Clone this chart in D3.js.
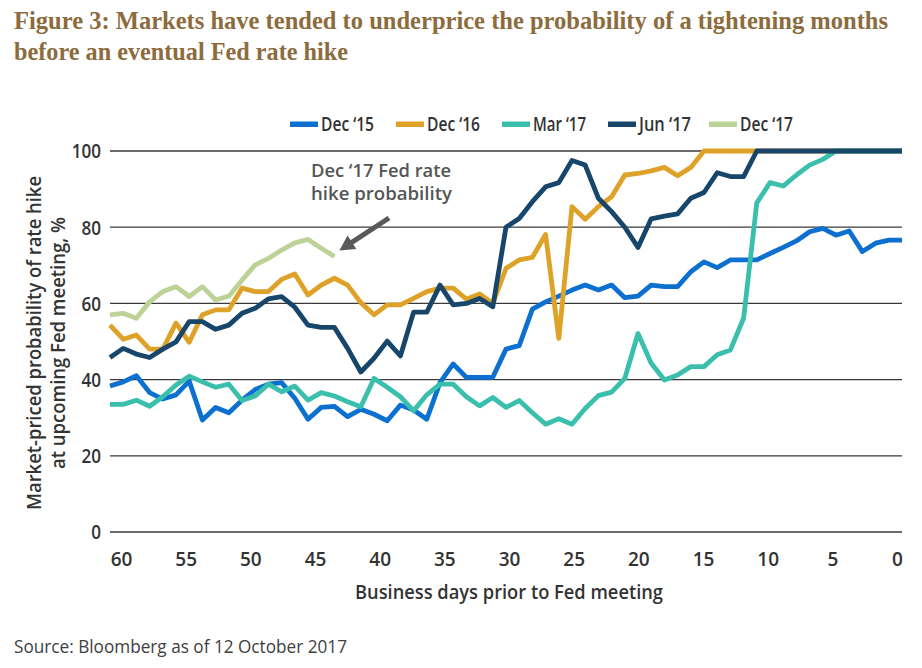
<!DOCTYPE html>
<html>
<head>
<meta charset="utf-8">
<script src="https://cdn.jsdelivr.net/npm/d3@7"></script>
<style>
  html, body { margin: 0; padding: 0; background: #fff; }
  svg { display: block; font-family: "Open Sans", "Noto Sans", sans-serif; }
</style>
</head>
<body>
<svg id="chart" width="922" height="668"></svg>
<script>
// ---- Data ----
const days = [60,59,58,57,56,55,54,53,52,51,50,49,48,47,46,45,44,43,42,41,40,
              39,38,37,36,35,34,33,32,31,30,29,28,27,26,25,24,23,22,21,20,
              19,18,17,16,15,14,13,12,11,10,9,8,7,6,5,4,3,2,1,0];

const dec15 = [38.3,39.4,41,36.6,34.9,36,39.6,29.4,32.7,31.3,34.6,37.4,38.8,39.2,35.1,29.6,32.7,33,30.3,32.2,
               30.9,29.2,33.3,32,29.6,39.2,44.1,40.6,40.6,40.6,48,48.9,58.5,60.4,61.9,63.5,64.8,63.5,64.8,61.5,
               61.9,64.8,64.4,64.4,68.3,70.9,69.4,71.4,71.4,71.4,73.1,74.7,76.4,78.8,79.7,77.9,79,73.6,75.8,76.6,76.6];

const dec16 = [54.3,50.6,51.7,48,48,54.8,49.8,57,58.3,58.3,64,63.1,63.1,66.3,67.7,62.2,64.8,66.6,64.8,60.2,
               57,59.6,59.6,61.3,63.1,64,64,61.1,62.5,60,69.2,71.4,72.1,78.1,50.8,85.4,82.1,85.4,88,93.7,
               94.1,94.8,95.7,93.5,95.7,100,100,100,100,100,100,100,100,100,100,100,100,100,100,100,100];

const mar17 = [33.5,33.5,34.6,33,35.5,38.6,40.9,39.4,38,38.8,34.5,35.7,38.8,36.8,38.3,34.6,36.6,35.7,34.2,32.9,
               40.3,38,35.5,31.8,36,38.8,38.8,35.5,33.1,35.3,32.7,34.5,31.3,28.3,29.7,28.3,32.4,35.8,36.7,40.3,
               52.1,44.3,39.9,41.2,43.4,43.4,46.5,47.8,56.1,86.4,91.7,90.8,93.7,96.3,97.8,100,100,100,100,100,100];

const jun17 = [45.8,48.2,46.7,45.8,48,49.9,55.2,55.2,53.2,54.3,57.4,58.7,61.2,61.8,59,54.3,53.7,53.7,48.2,42,
               45.6,50.1,46.2,57.7,57.7,64.8,59.6,60,61.3,59.1,80,82.3,86.7,90.6,91.7,97.5,96.3,87.6,84.1,80,
               74.7,82.2,82.9,83.5,87.6,89.1,94.3,93.3,93.3,100,100,100,100,100,100,100,100,100,100,100,100];

const dec17 = [57,57.4,56.1,60.4,63.1,64.4,61.8,64.4,60.9,61.9,66.1,70.1,71.8,74,75.9,76.8,74.5,72.3];

const seriesNames = ["Dec \u201815", "Dec \u201816", "Mar \u201817", "Jun \u201817", "Dec \u201817"];
const seriesValues = [dec15, dec16, mar17, jun17, dec17];
const seriesColors = ["#0b70cf", "#dfa228", "#3bbfad", "#17466a", "#bdd296"];

const yTicks = [0, 20, 40, 60, 80, 100];
const xTicks = [60, 55, 50, 45, 40, 35, 30, 25, 20, 15, 10, 5, 0];

const titleLines = ["Figure 3: Markets have tended to underprice the probability of a tightening months",
                    "before an eventual Fed rate hike"];
const yLabelLines = ["Market-priced probability of rate hike", "at upcoming Fed meeting, %"];
const xLabel = "Business days prior to Fed meeting";
const annotationLines = ["Dec \u201817 Fed rate", "hike probability"];
const sourceText = "Source: Bloomberg as of 12 October 2017";

// ---- Chart ----
const svg = d3.select("#chart");
const x = d3.scaleLinear().domain([60, 0]).range([110, 902]);
const xLab = d3.scaleLinear().domain([60, 0]).range([121, 897]);
const y = d3.scaleLinear().domain([0, 100]).range([532, 151]);

// Title
const titleG = svg.append("g");
titleLines.forEach((t, i) => {
  titleG.append("text")
    .attr("x", 14).attr("y", 29 + i * 31)
    .style("font-family", "'Liberation Serif', 'DejaVu Serif', serif")
    .attr("font-weight", "bold").attr("font-size", 25)
    .attr("fill", "#8c6c3d")
    .attr("textLength", i === 0 ? 874 : 334).attr("lengthAdjust", "spacingAndGlyphs")
    .text(t);
});

// Gridlines
svg.append("g").selectAll("line").data(yTicks).join("line")
  .attr("x1", 110).attr("x2", 902)
  .attr("y1", d => y(d)).attr("y2", d => y(d))
  .attr("stroke", "#3a3a3a").attr("stroke-width", 1.3);

// Y axis labels
const yAxis = d3.axisLeft(y).tickValues(yTicks).tickSize(0).tickPadding(0);
const yG = svg.append("g").attr("transform", "translate(101,0)").call(yAxis);
yG.select(".domain").remove();
yG.selectAll("text").style("font-family", "'Open Sans', sans-serif")
  .attr("font-size", 19).attr("font-weight", 600).attr("fill", "#333")
  .attr("dy", "0.36em")
  .attr("transform", "scale(0.9,1)");

// X axis labels
const xAxis = d3.axisBottom(xLab).tickValues(xTicks).tickSize(0).tickPadding(0);
const xG = svg.append("g").attr("transform", "translate(0,566)").call(xAxis);
xG.select(".domain").remove();
xG.selectAll("text").style("font-family", "'Open Sans', sans-serif")
  .attr("font-size", 19).attr("font-weight", 600).attr("fill", "#333")
  .attr("dy", 0).attr("y", 0);

// Lines
const line = d3.line()
  .x((d, i) => x(days[i]))
  .y(d => y(d));
svg.append("g").selectAll("path").data(seriesValues).join("path")
  .attr("d", d => line(d))
  .attr("fill", "none")
  .attr("stroke", (d, i) => seriesColors[i])
  .attr("stroke-width", 4.8)
  .attr("stroke-linejoin", "round")
  .attr("stroke-linecap", "butt");

// Legend
const legendX = [290, 396, 502, 608, 709];
const legendW = [53, 53, 53, 52, 53];
const lg = svg.append("g");
seriesNames.forEach((n, i) => {
  lg.append("rect").attr("x", legendX[i]).attr("y", 121.5)
    .attr("width", 28).attr("height", 5.5).attr("fill", seriesColors[i]);
  lg.append("text").attr("x", legendX[i] + 31).attr("y", 131)
    .attr("font-size", 20).attr("font-weight", 600).attr("fill", "#333")
    .attr("textLength", legendW[i]).attr("lengthAdjust", "spacingAndGlyphs")
    .text(n);
});

// Y label
const yl = svg.append("g").attr("transform", "translate(0,343) rotate(-90)");
yLabelLines.forEach((t, i) => {
  yl.append("text").attr("x", 0).attr("y", 41 + i * 24)
    .attr("text-anchor", "middle")
    .attr("font-size", 19).attr("font-weight", 600).attr("fill", "#333")
    .attr("textLength", i === 0 ? 334 : 252).attr("lengthAdjust", "spacingAndGlyphs")
    .text(t);
});

// X label
svg.append("text").attr("x", 509).attr("y", 599).attr("text-anchor", "middle")
  .attr("font-size", 19).attr("font-weight", 600).attr("fill", "#333")
  .attr("textLength", 308).attr("lengthAdjust", "spacingAndGlyphs")
  .text(xLabel);

// Annotation
annotationLines.forEach((t, i) => {
  svg.append("text").attr("x", 311).attr("y", 177 + i * 23)
    .attr("font-size", 18).attr("font-weight", 600).attr("fill", "#555")
    .attr("textLength", i === 0 ? 140 : 141).attr("lengthAdjust", "spacingAndGlyphs")
    .text(t);
});
// arrow pointing to end of Dec '17 series
const tipX = x(43) + 5, tipY = y(dec17[dec17.length - 1]) - 6;
const startX = 389, startY = 218;
const ang = Math.atan2(tipY - startY, tipX - startX);
const headLen = 15, headW = 8;
const baseX = tipX - headLen * Math.cos(ang), baseY = tipY - headLen * Math.sin(ang);
svg.append("line").attr("x1", startX).attr("y1", startY).attr("x2", baseX + 2 * Math.cos(ang)).attr("y2", baseY + 2 * Math.sin(ang))
  .attr("stroke", "#595959").attr("stroke-width", 5);
svg.append("path")
  .attr("d", `M${tipX},${tipY} L${baseX + headW * Math.sin(ang)},${baseY - headW * Math.cos(ang)} L${baseX - headW * Math.sin(ang)},${baseY + headW * Math.cos(ang)} Z`)
  .attr("fill", "#595959");

// Source
svg.append("text").attr("x", 14).attr("y", 653)
  .attr("font-size", 18).attr("font-weight", 400).attr("fill", "#404040")
  .attr("textLength", 333).attr("lengthAdjust", "spacingAndGlyphs")
  .text(sourceText);
</script>
</body>
</html>
